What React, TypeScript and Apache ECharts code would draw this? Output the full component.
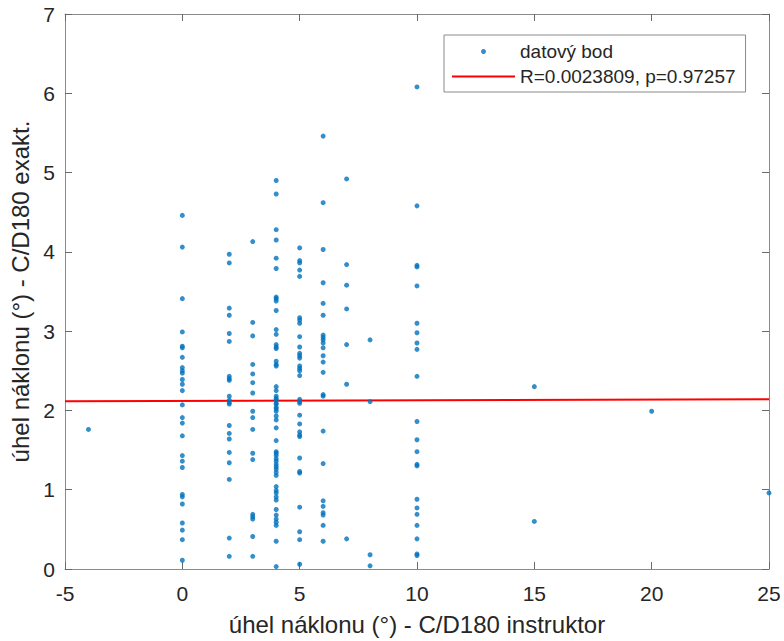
import React, { useEffect, useRef } from "react";
import * as echarts from "echarts";

// Instructor angle (x) columns and the exact angle values (y) read at each
const exactAtM4 = [1.76];
const exactAt0 = [4.46, 4.06, 3.41, 2.99, 2.81, 2.79, 2.67, 2.54, 2.5, 2.47, 2.39, 2.33, 2.25, 2.07, 1.91, 1.84, 1.68, 1.43, 1.36, 1.28, 0.94, 0.91, 0.82, 0.58, 0.49, 0.37, 0.11];
const exactAt2 = [3.97, 3.86, 3.29, 3.2, 2.97, 2.87, 2.43, 2.4, 2.38, 2.18, 2.13, 2.1, 2.08, 1.81, 1.71, 1.64, 1.47, 1.34, 1.13, 0.39, 0.16];
const exactAt3 = [4.13, 3.11, 2.94, 2.58, 2.46, 2.35, 2.22, 1.99, 1.91, 1.76, 1.46, 1.38, 0.69, 0.66, 0.63, 0.41, 0.16];
const exactAt4 = [4.9, 4.73, 4.28, 4.15, 3.92, 3.79, 3.43, 3.41, 3.38, 3.26, 3.02, 2.96, 2.83, 2.8, 2.78, 2.62, 2.58, 2.56, 2.3, 2.25, 2.18, 2.15, 2.13, 2.09, 2.08, 2.04, 2.02, 1.99, 1.93, 1.88, 1.78, 1.62, 1.48, 1.46, 1.43, 1.39, 1.36, 1.32, 1.29, 1.26, 1.22, 1.18, 1.04, 0.99, 0.96, 0.91, 0.87, 0.75, 0.68, 0.63, 0.59, 0.55, 0.35, 0.03];
const exactAt5 = [4.05, 3.89, 3.86, 3.77, 3.69, 3.17, 3.14, 3.1, 2.93, 2.8, 2.72, 2.69, 2.66, 2.56, 2.53, 2.5, 2.44, 2.14, 2.11, 2.09, 1.94, 1.83, 1.73, 1.69, 1.67, 1.4, 1.23, 1.21, 0.78, 0.47, 0.37, 0.06];
const exactAt6 = [5.46, 4.62, 4.03, 3.61, 3.35, 3.2, 2.95, 2.92, 2.89, 2.85, 2.79, 2.69, 2.61, 2.48, 2.2, 2.18, 1.74, 1.33, 0.86, 0.79, 0.71, 0.68, 0.55, 0.35];
const exactAt7 = [4.92, 3.84, 3.58, 3.28, 2.83, 2.33, 0.38];
const exactAt8 = [2.89, 2.11, 0.18, 0.04];
const exactAt10 = [6.08, 4.58, 3.83, 3.81, 3.57, 3.1, 2.98, 2.85, 2.77, 2.43, 1.86, 1.63, 1.48, 1.32, 1.3, 0.88, 0.77, 0.69, 0.55, 0.38, 0.19, 0.17];
const exactAt15 = [2.3, 0.6];
const exactAt20 = [1.99];
const exactAt25 = [0.96];

const instructorValues = [-4, 0, 2, 3, 4, 5, 6, 7, 8, 10, 15, 20, 25];
const exactColumns = [exactAtM4, exactAt0, exactAt2, exactAt3, exactAt4, exactAt5, exactAt6, exactAt7, exactAt8, exactAt10, exactAt15, exactAt20, exactAt25];

// Regression line endpoints
const fitX = [-5, 25];
const fitY = [2.116, 2.14];

const xTicks = { min: -5, max: 25, interval: 5 };
const yTicks = { min: 0, max: 7, interval: 1 };

const seriesNames = ["datový bod", "R=0.0023809, p=0.97257"];
const xLabel = "úhel náklonu (°) - C/D180 instruktor";
const yLabel = "úhel náklonu (°) - C/D180 exakt.";

const FONT = "'Liberation Sans', Arial, Helvetica, sans-serif";
const TEXT = "#262626";
const AXIS = "#8a8a8a";

export default function App() {
  const ref = useRef<HTMLDivElement>(null);

  useEffect(() => {
    if (!ref.current) return;
    const chart = echarts.init(ref.current, undefined, { renderer: "svg" });

    const points: number[][] = [];
    instructorValues.forEach((x, i) => {
      exactColumns[i].forEach((y) => points.push([x, y]));
    });
    const fitData = fitX.map((x, i) => [x, fitY[i]]);

    const baseAxis = {
      type: "value" as const,
      splitLine: { show: false },
      axisLine: { show: true, onZero: false, lineStyle: { color: AXIS, width: 1 } },
      axisTick: { show: true, inside: true, length: 7, lineStyle: { color: "#6a6a6a", width: 1 } },
    };

    chart.setOption({
      animation: false,
      textStyle: { fontFamily: FONT },
      grid: { left: 65, top: 14, right: 15, bottom: 72, containLabel: false },
      legend: {
        orient: "vertical",
        left: 444,
        top: 35,
        padding: [7, 10, 6, 8],
        itemWidth: 63,
        itemHeight: 5,
        itemGap: 6,
        borderColor: AXIS,
        borderWidth: 1,
        backgroundColor: "#ffffff",
        textStyle: { fontSize: 19, color: TEXT, fontFamily: FONT },
        data: [
          { name: seriesNames[0], icon: "circle" },
          { name: seriesNames[1], icon: "path://M0,0 L63,0 L63,2 L0,2 Z" },
        ],
      },
      xAxis: [
        {
          ...baseAxis,
          ...xTicks,
          position: "bottom",
          axisLabel: { fontSize: 21, color: TEXT, margin: 14, fontFamily: FONT },
          name: xLabel,
          nameLocation: "middle",
          nameGap: 43,
          nameTextStyle: { fontSize: 24, color: TEXT, fontFamily: FONT },
        },
        {
          ...baseAxis,
          ...xTicks,
          position: "top",
          axisLabel: { show: false },
        },
      ],
      yAxis: [
        {
          ...baseAxis,
          ...yTicks,
          position: "left",
          axisLabel: { fontSize: 21, color: TEXT, margin: 10, fontFamily: FONT },
          name: yLabel,
          nameLocation: "middle",
          nameGap: 31,
          nameTextStyle: { fontSize: 24, color: TEXT, fontFamily: FONT },
        },
        {
          ...baseAxis,
          ...yTicks,
          position: "right",
          axisLabel: { show: false },
        },
      ],
      series: [
        {
          name: seriesNames[0],
          type: "scatter",
          xAxisIndex: 0,
          yAxisIndex: 0,
          symbol: "circle",
          symbolSize: 5,
          itemStyle: { color: "#0072BD" },
          data: points,
          z: 3,
        },
        {
          name: seriesNames[1],
          type: "line",
          xAxisIndex: 0,
          yAxisIndex: 0,
          symbol: "none",
          showSymbol: false,
          lineStyle: { color: "#ff0000", width: 2 },
          itemStyle: { color: "#ff0000" },
          data: fitData,
          z: 2,
        },
      ],
    });

    return () => chart.dispose();
  }, []);

  return (
    <div
      ref={ref}
      style={{ position: "fixed", left: 0, top: 0, width: 784, height: 641, background: "#ffffff" }}
    />
  );
}
